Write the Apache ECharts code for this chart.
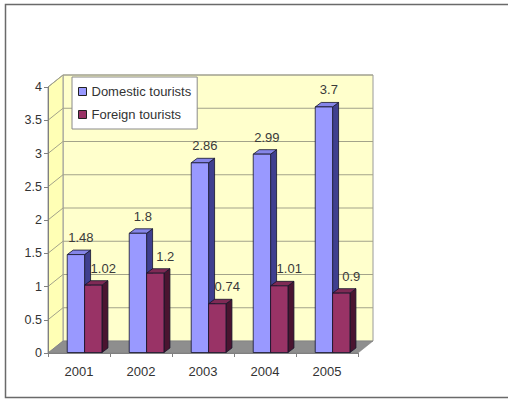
<!DOCTYPE html>
<html><head><meta charset="utf-8">
<script src="https://cdn.jsdelivr.net/npm/echarts@6/dist/echarts.min.js"></script>
<style>html,body{margin:0;padding:0;background:#fff}#c{width:508px;height:400px}</style>
</head><body><div id="c"></div>
<script>
const years = ['2001', '2002', '2003', '2004', '2005'];
const domestic = [1.48, 1.8, 2.86, 2.99, 3.7];
const foreign = [1.02, 1.2, 0.74, 1.01, 0.9];
const yTicks = [0, 0.5, 1, 1.5, 2, 2.5, 3, 3.5, 4];
const seriesNames = ['Domestic tourists', 'Foreign tourists'];

const FONT = '"Liberation Sans", Arial, sans-serif';
const WALL_DX = 15, WALL_DY = 12, BAR_DX = 6, BAR_DY = 4.5;
const COL_DOM = {front: '#9999FF', top: '#8585E8', side: '#3F3F8F'};
const COL_FOR = {front: '#993366', top: '#7F2A55', side: '#4A1430'};

const chart = echarts.init(document.getElementById('c'), null, {renderer: 'svg'});

function barRender(offsetFrac, widthFrac, colors, labelShift) {
  return function (params, api) {
    const i = api.value(0), v = api.value(1);
    const top = api.coord([i, v]);
    const base = api.coord([i, 0]);
    const band = api.size([1, 0])[0];
    const x0 = top[0] + offsetFrac * band, x1 = x0 + widthFrac * band;
    const yt = top[1], yb = base[1] - 0.5;
    const st = (fill) => ({fill: fill, stroke: '#14142a', lineWidth: 0.8});
    return {type: 'group', children: [
      {type: 'text', z2: -10, style: {text: String(v), x: (x0 + x1) / 2 + labelShift, y: yt - 17,
        textAlign: 'center', textVerticalAlign: 'middle', font: '13px ' + FONT, fill: '#3a3a3a'}},
      {type: 'polygon', z2: 5, shape: {points: [[x1, yt], [x1 + BAR_DX, yt - BAR_DY], [x1 + BAR_DX, yb - BAR_DY], [x1, yb]]}, style: st(colors.side)},
      {type: 'polygon', z2: 5, shape: {points: [[x0, yt], [x1, yt], [x1 + BAR_DX, yt - BAR_DY], [x0 + BAR_DX, yt - BAR_DY]]}, style: st(colors.top)},
      {type: 'rect', z2: 5, shape: {x: x0, y: yt, width: x1 - x0, height: yb - yt}, style: st(colors.front)}
    ]};
  };
}

const option = {
  animation: false,
  backgroundColor: '#ffffff',
  textStyle: {fontFamily: FONT},
  grid: {left: 48, right: 150, top: 87, bottom: 47, containLabel: false},
  legend: {
    orient: 'vertical', left: 72, top: 77,
    backgroundColor: '#ffffff', borderColor: '#8a8a8a', borderWidth: 1,
    padding: [8, 6, 8, 6], itemGap: 10, itemWidth: 8, itemHeight: 8,
    textStyle: {fontSize: 13, color: '#333', fontFamily: FONT},
    data: [
      {name: seriesNames[0], icon: 'rect', itemStyle: {color: COL_DOM.front, borderColor: '#222', borderWidth: 1}},
      {name: seriesNames[1], icon: 'rect', itemStyle: {color: COL_FOR.front, borderColor: '#222', borderWidth: 1}}
    ]
  },
  xAxis: {
    type: 'category', data: years, boundaryGap: true,
    axisLine: {show: true, lineStyle: {color: '#808080'}},
    axisTick: {show: true, length: 4, lineStyle: {color: '#808080'}},
    axisLabel: {margin: 12, fontSize: 13, color: '#333', fontFamily: FONT},
    splitLine: {show: false}
  },
  yAxis: {
    type: 'value', min: 0, max: 4, interval: 0.5,
    axisLine: {show: true, lineStyle: {color: '#808080'}},
    axisTick: {show: true, length: 4, lineStyle: {color: '#808080'}},
    axisLabel: {margin: 6, fontSize: 12.5, color: '#333', fontFamily: FONT},
    splitLine: {show: false}
  },
  series: [
    {name: seriesNames[0], type: 'custom', z: 3, itemStyle: {color: COL_DOM.front},
     renderItem: barRender(-0.19, 0.28, COL_DOM, 5), encode: {x: 0, y: 1},
     data: domestic.map((v, i) => [i, v])},
    {name: seriesNames[1], type: 'custom', z: 3, itemStyle: {color: COL_FOR.front},
     renderItem: barRender(0.09, 0.28, COL_FOR, 10), encode: {x: 0, y: 1},
     data: foreign.map((v, i) => [i, v])}
  ]
};
chart.setOption(option);

// walls, floor and gridlines derived from the axes' own scales
const c0 = chart.convertToPixel({xAxisIndex: 0}, 0);
const c1 = chart.convertToPixel({xAxisIndex: 0}, 1);
const cN = chart.convertToPixel({xAxisIndex: 0}, years.length - 1);
const band = c1 - c0;
const L = c0 - band / 2, R = cN + band / 2;
const yOf = (v) => chart.convertToPixel({yAxisIndex: 0}, v);
const Y0 = yOf(yTicks[0]), YT = yOf(yTicks[yTicks.length - 1]);
const els = [];
els.push({type: 'polyline', z: -2, shape: {points: [[510, 4.5], [5.5, 4.5], [5.5, 397.5], [510, 397.5]]}, style: {fill: 'none', stroke: '#6a6a6a', lineWidth: 1.5}});
els.push({type: 'polygon', z: -2, shape: {points: [[L + WALL_DX, YT - WALL_DY], [R + WALL_DX, YT - WALL_DY], [R + WALL_DX, Y0 - WALL_DY], [L + WALL_DX, Y0 - WALL_DY]]},
  style: {fill: '#FFFFCC', stroke: '#9a9a9a', lineWidth: 1}});
els.push({type: 'polygon', z: -2, shape: {points: [[L, YT], [L + WALL_DX, YT - WALL_DY], [L + WALL_DX, Y0 - WALL_DY], [L, Y0]]},
  style: {fill: '#FFFFB5', stroke: '#9a9a9a', lineWidth: 1}});
yTicks.forEach((v) => {
  if (v === 0) return;
  const y = yOf(v);
  els.push({type: 'polyline', z: -1, shape: {points: [[L, y], [L + WALL_DX, y - WALL_DY], [R + WALL_DX, y - WALL_DY]]},
    style: {fill: 'none', stroke: '#a3a38a', lineWidth: 1}});
});
els.push({type: 'polygon', z: -1, shape: {points: [[L, Y0], [L + WALL_DX, Y0 - WALL_DY], [R + WALL_DX, Y0 - WALL_DY], [R, Y0]]},
  style: {fill: '#8e8e8e', stroke: '#7a7a7a', lineWidth: 0.5}});
chart.setOption({graphic: {elements: els}});
</script>
</body></html>
